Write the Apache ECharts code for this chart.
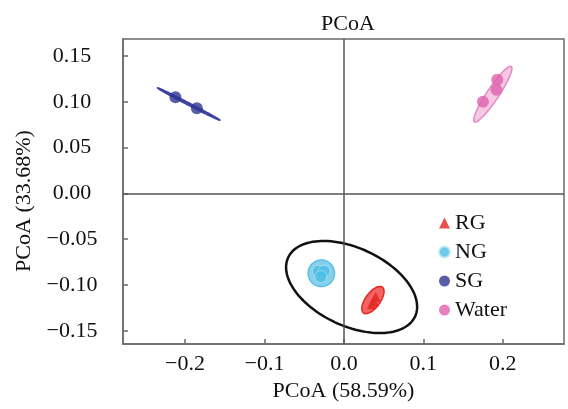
<!DOCTYPE html>
<html>
<head>
<meta charset="utf-8">
<script src="https://cdn.jsdelivr.net/npm/echarts@6/dist/echarts.min.js"></script>
<style>
html,body{margin:0;padding:0;background:#fff;}
#c{width:568px;height:409px;}
</style>
</head>
<body>
<div id="c"></div>
<script>
// ---- data ----
const categories = ['RG', 'NG', 'SG', 'Water'];
const rgPoints = [[0.040, -0.113], [0.035, -0.121], [0.038, -0.118]];
const ngPoints = [[-0.032, -0.085], [-0.025, -0.085], [-0.029, -0.091]];
const sgPoints = [[-0.212, 0.105], [-0.185, 0.093]];
const waterPoints = [[0.193, 0.124], [0.192, 0.113], [0.175, 0.100]];
const xTicks = [-0.2, -0.1, 0.0, 0.1, 0.2];
const yTicks = [-0.15, -0.10, -0.05, 0.00, 0.05, 0.10, 0.15];
const xRange = [-0.278, 0.277];
const yRange = [-0.1645, 0.1685];
// ellipses: center x, center y, semi-axis vector u (x,y), semi-axis vector v (x,y), in data units
const allEllipse = [0.0097, -0.1023, 0.0798, -0.0323, -0.0208, -0.0385];
const rgEllipse = [0.0365, -0.1165, 0.0120, 0.0140, 0.0072, -0.0050];
const ngEllipse = [-0.0284, -0.0873, 0.0166, 0, 0, -0.0145];
const sgEllipse = [-0.1953, 0.0975, 0.0390, -0.0175, -0.0006, -0.0010];
const waterEllipse = [0.1874, 0.1082, 0.0232, 0.0302, 0.0063, -0.0036];

const FONT = "'Liberation Serif', 'Times New Roman', serif";
const colors = {RG: '#E52521', NG: '#4BBDE3', SG: '#2D3691', Water: '#DE62AE'};

function fmtNum(v, d) {
  const s = Math.abs(v).toFixed(d);
  return (v < -1e-9 ? '\u2212' : '') + s;
}

function ellipseSeries(params, fill, stroke, lw, z) {
  return {
    type: 'custom',
    coordinateSystem: 'cartesian2d',
    silent: true,
    z: z,
    data: [params],
    encode: {x: 0, y: 1},
    renderItem: function (p, api) {
      const cx = api.value(0), cy = api.value(1);
      const ux = api.value(2), uy = api.value(3);
      const vx = api.value(4), vy = api.value(5);
      const pts = [];
      for (let i = 0; i < 120; i++) {
        const t = i / 120 * Math.PI * 2;
        const c = Math.cos(t), s = Math.sin(t);
        pts.push(api.coord([cx + ux * c + vx * s, cy + uy * c + vy * s]));
      }
      return {
        type: 'polygon',
        shape: {points: pts},
        style: {fill: fill, stroke: stroke, lineWidth: lw}
      };
    }
  };
}

const chart = echarts.init(document.getElementById('c'), null, {renderer: 'canvas'});
chart.setOption({
  animation: false,
  backgroundColor: '#fff',
  title: {
    text: 'PCoA',
    left: 343,
    top: 8,
    textAlign: 'center',
    textStyle: {fontFamily: FONT, fontSize: 22, fontWeight: 'normal', color: '#111'}
  },
  grid: {
    left: 123, right: 4, top: 39, bottom: 65,
    show: true, borderColor: '#6a6a6a', borderWidth: 1.5, backgroundColor: 'transparent'
  },
  legend: {
    orient: 'vertical',
    left: 433,
    top: 207,
    itemWidth: 11,
    itemHeight: 11,
    itemGap: 7,
    data: [
      {name: 'RG', icon: 'triangle'},
      {name: 'NG', icon: 'circle'},
      {name: 'SG', icon: 'circle'},
      {name: 'Water', icon: 'circle'}
    ],
    textStyle: {fontFamily: FONT, fontSize: 22, lineHeight: 22, color: '#111'}
  },
  xAxis: {
    type: 'value',
    min: xRange[0], max: xRange[1],
    name: 'PCoA (58.59%)',
    nameLocation: 'middle',
    nameGap: 34,
    nameTextStyle: {fontFamily: FONT, fontSize: 22, color: '#111'},
    axisLine: {show: true, onZero: false, lineStyle: {color: '#6a6a6a', width: 1.5}},
    axisTick: {show: true, inside: true, length: 5, customValues: xTicks, lineStyle: {color: '#6a6a6a', width: 1.5}},
    axisLabel: {
      customValues: xTicks, margin: 9,
      fontFamily: FONT, fontSize: 22, color: '#111',
      formatter: v => fmtNum(v, 1)
    },
    splitLine: {show: false}
  },
  yAxis: {
    type: 'value',
    min: yRange[0], max: yRange[1],
    name: 'PCoA (33.68%)',
    nameLocation: 'middle',
    nameGap: 86,
    nameRotate: 90,
    nameTextStyle: {fontFamily: FONT, fontSize: 22, color: '#111', padding: [0, 19, 0, 0]},
    axisLine: {show: true, onZero: false, lineStyle: {color: '#6a6a6a', width: 1.5}},
    axisTick: {show: true, inside: true, length: 5, customValues: yTicks, lineStyle: {color: '#6a6a6a', width: 1.5}},
    axisLabel: {
      customValues: yTicks, margin: 51, align: 'center',
      fontFamily: FONT, fontSize: 22, color: '#111',
      formatter: v => fmtNum(v, 2)
    },
    splitLine: {show: false}
  },
  series: [
    {
      type: 'scatter',
      name: 'zero',
      data: [],
      silent: true,
      z: 1,
      markLine: {
        silent: true,
        symbol: 'none',
        label: {show: false},
        lineStyle: {color: '#555', width: 1.5, type: 'solid'},
        data: [{xAxis: 0}, {yAxis: 0}]
      }
    },
    ellipseSeries(allEllipse, 'none', '#111', 2.5, 2),
    ellipseSeries(sgEllipse, '#4A4FA8', '#3D42A0', 1.8, 2),
    ellipseSeries(waterEllipse, '#F6C8E3', '#E589C3', 1.5, 2),
    ellipseSeries(ngEllipse, '#86D0EC', '#5BC0E6', 1.5, 2),
    ellipseSeries(rgEllipse, '#F26464', '#E52521', 1.5, 2),
    {
      type: 'scatter', name: 'RG', data: rgPoints, symbol: 'triangle', symbolSize: 10,
      itemStyle: {color: colors.RG}, z: 3
    },
    {
      type: 'scatter', name: 'NG', data: ngPoints, symbol: 'circle', symbolSize: 12,
      itemStyle: {color: colors.NG, borderColor: '#BFE8F6', borderWidth: 0.8}, z: 3
    },
    {
      type: 'scatter', name: 'SG', data: sgPoints, symbol: 'circle', symbolSize: 12,
      itemStyle: {color: colors.SG}, z: 3
    },
    {
      type: 'scatter', name: 'Water', data: waterPoints, symbol: 'circle', symbolSize: 12,
      itemStyle: {color: colors.Water}, z: 3
    }
  ]
});
</script>
</body>
</html>
